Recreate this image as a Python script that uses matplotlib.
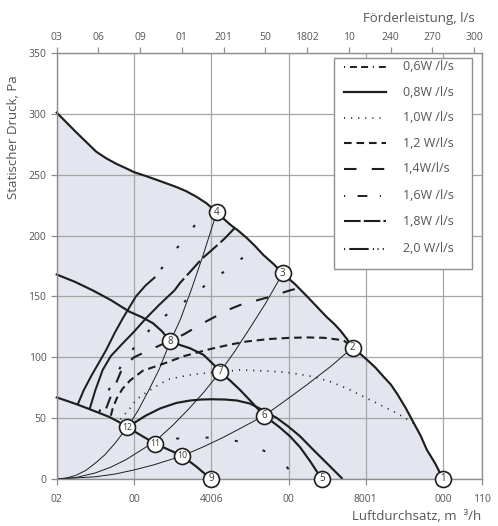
import matplotlib.pyplot as plt
from matplotlib.patches import Rectangle
from matplotlib.lines import Line2D

plt.rcParams['font.family'] = ['Open Sans', 'DejaVu Sans']
plt.rcParams['lines.scale_dashes'] = False

# --- data (x: m3/h, y: Pa) ---
max_x = [0, 25, 50, 76, 102, 128, 154, 178, 201, 230, 257, 283, 309, 335, 361, 388, 414,
         449, 470, 492, 513, 535, 560, 585, 617, 648, 675, 699, 718, 734, 750, 766,
         785, 803, 825, 846, 865, 881, 903, 924, 942, 958, 980, 1000]
max_y = [301, 293, 285, 277, 269, 263.5, 259, 255.5, 252, 249, 246, 243, 240, 236.5, 232, 226.5, 219,
         209, 204, 198, 191.5, 184, 177, 169, 160, 150, 141, 133, 127.5, 122, 115.5, 108,
         103, 98, 91.5, 84, 77.5, 70, 58.5, 46, 35.5, 24, 12.5, 0]

mid_x = [0, 47, 93, 140, 188, 220, 249, 272, 294, 320, 345, 380, 406, 423, 450, 475, 505, 537,
         575, 604, 630, 655, 686]
mid_y = [168, 162, 155, 147, 137.5, 133, 128, 121.5, 113, 110, 107.4, 102, 94, 88, 80.5, 73, 63, 52,
         43, 35, 26, 15, 0]

low_x = [0, 28, 55, 84, 112, 136, 160, 183, 220, 255, 290, 325, 362, 399]
low_y = [67, 64, 61, 57.5, 54, 51, 47, 42.5, 35.5, 29, 24, 19, 10, 0]

sys4_x = [0, 25, 50, 75, 100, 125, 150, 183, 210, 240, 265, 294, 320, 350, 380, 414]
sys4_y = [0, 0.8, 3, 7, 13, 20, 29, 42.5, 56, 74, 90, 113, 131, 157, 185, 219]
sys3_x = [0, 50, 100, 140, 180, 220, 255, 300, 340, 380, 423, 460, 500, 540, 585]
sys3_y = [0, 1.2, 5, 9.7, 16, 24, 31, 44, 57, 71, 88, 104.5, 124, 144, 169]
sys2_x = [0, 100, 150, 200, 250, 325, 380, 430, 480, 537, 590, 650, 710, 766]
sys2_y = [0, 1.8, 4, 7.4, 11.5, 19, 26.5, 34, 42.4, 52, 64, 78, 92.7, 108]

w06_x = [255, 295, 332, 370, 406, 445, 483, 525, 561, 595, 622]
w06_y = [31, 33, 33.5, 34, 34, 32.5, 30, 25, 19, 10, 0]
w08_x = [183, 230, 268, 310, 346, 375, 401, 435, 466, 500, 537, 570, 600, 630, 664, 699, 740]
w08_y = [42.5, 52, 58, 62.5, 64.5, 65.3, 65.5, 65.3, 64.5, 62, 56, 50, 43, 35, 24, 13, 0]
w10_x = [165, 192, 205, 227, 249, 270, 292, 320, 346, 385, 423, 475, 544, 604, 665, 708, 751,
         794, 838, 881, 924]
w10_y = [49, 59, 65, 70, 74.5, 78.6, 82, 84, 85.5, 87, 88, 89.6, 88.7, 87.3, 84, 80, 74.5,
         67.6, 60.8, 54, 45.8]
w12_x = [140, 145, 155, 170, 190, 223, 270, 330, 400, 450, 492, 550, 604, 650, 691, 742, 766]
w12_y = [52, 58, 66, 74, 81, 89, 94, 101, 107, 110.5, 113, 115, 116, 116.3, 116, 114, 108]
w14_x = [128, 140, 154, 171, 200, 240, 290, 330, 384, 444, 475, 544, 604, 628]
w14_y = [58, 68, 79, 92, 100, 106, 113, 119, 129, 139, 143, 149, 155, 157]
w16_x = [110, 130, 150, 175, 221, 263, 324, 384, 451, 520]
w16_y = [55, 70, 83, 98, 116, 130, 144, 159, 174.5, 191]
w18_x = [84.5, 100, 119, 140, 171, 200, 231, 265, 305, 319, 376, 419, 436, 460]
w18_y = [56.7, 73, 89.6, 101, 111.5, 121, 132, 143, 155, 161, 181, 193, 198, 206]
w20_x = [54, 70, 90, 110, 128, 150, 171, 205, 230, 255, 302, 349, 395]
w20_y = [61, 73, 85, 96, 106, 120, 132, 150, 159, 166, 186, 205, 224]
split18 = 8   # index where the 1.8 line turns from solid to dashed
split20 = 9   # index where the 2.0 line turns from solid to sparse

pt_id = ['1', '2', '3', '4', '5', '6', '7', '8', '9', '10', '11', '12']
pt_x = [1000, 766, 585, 414, 686, 537, 423, 294, 399, 325, 255, 183]
pt_y = [0, 108, 169, 219, 0, 52, 88, 113, 0, 19, 29, 42.5]

x_ticks = [0, 200, 400, 600, 800, 1000, 1100]
x_labels = ['02', '00', '4006', '00', '8001', '000', '110']
y_ticks = [0, 50, 100, 150, 200, 250, 300, 350]
top_ls = [0, 30, 60, 90, 120, 150, 180, 210, 240, 270, 300]
top_labels = ['03', '06', '09', '01', '201', '50', '1802', '10', '240', '270', '300']

leg_labels = ['0,6W /l/s', '0,8W /l/s', '1,0W /l/s', '1,2 W/l/s',
              '1,4W/l/s', '1,6W /l/s', '1,8W /l/s', '2,0 W/l/s']

TXT = '#555555'
GRID = '#a6a6a6'
INK = '#1e1e1e'
FILL = '#e3e6ef'

# legend handle styles
leg_styles = [
    dict(ls=(0, (0.8, 3.5, 5, 3, 5, 3.5)), lw=1.4),
    dict(ls='-', lw=1.6),
    dict(ls=(0, (0.8, 4.3)), lw=1.2),
    dict(ls=(0, (5.5, 3.5)), lw=1.5),
    dict(ls=(0, (9, 11)), lw=1.5),
    dict(ls=(0, (0.8, 9, 7, 9)), lw=1.4),
    dict(ls=(0, (12, 2.2)), lw=1.5),
    dict(ls=(0, (0.8, 3, 14, 3, 0.8, 2.5, 0.8, 3)), lw=1.5),
]

fig = plt.figure(figsize=(4.98, 5.26), dpi=100)
ax = fig.add_axes([0.1139, 0.0894, 0.8534, 0.8098])
ax.set_xlim(0, 1100)
ax.set_ylim(0, 350)
ax.set_axisbelow(True)

ax.fill_between(max_x, max_y, 0, color=FILL, lw=0, zorder=0.2)
ax.grid(True, color=GRID, lw=0.9)

# system curves
for sx, sy in [(sys4_x, sys4_y), (sys3_x, sys3_y), (sys2_x, sys2_y)]:
    ax.plot(sx, sy, color=INK, lw=0.7, zorder=1.5)

# specific fan power lines
kw = dict(color=INK, zorder=2, dash_capstyle='butt', solid_capstyle='butt')
ax.plot(w06_x, w06_y, ls=(6, (2.2, 19)), lw=1.4, **kw)
ax.plot(w08_x, w08_y, ls='-', lw=1.55, **kw)
ax.plot(w10_x, w10_y, ls=(0, (0.8, 4.3)), lw=1.2, **kw)
ax.plot(w12_x, w12_y, ls=(0, (5.5, 3.5)), lw=1.5, **kw)
ax.plot(w14_x, w14_y, ls=(0, (9, 11)), lw=1.5, **kw)
ax.plot(w16_x, w16_y, ls=(0, (2, 15)), lw=1.5, **kw)
ax.plot(w18_x[:split18 + 1], w18_y[:split18 + 1], ls='-', lw=1.45, **kw)
ax.plot(w18_x[split18:], w18_y[split18:], ls=(3, (14, 3)), lw=1.5, **kw)
ax.plot(w20_x[:split20 + 1], w20_y[:split20 + 1], ls='-', lw=1.45, **kw)
ax.plot(w20_x[split20:], w20_y[split20:], ls=(12, (2, 17)), lw=1.5, **kw)

# fan curves
for fx, fy in [(max_x, max_y), (mid_x, mid_y), (low_x, low_y)]:
    ax.plot(fx, fy, color=INK, lw=1.55, zorder=2.5, clip_on=False)

# numbered points
ax.plot(pt_x, pt_y, 'o', ms=11.5, mfc='white', mec=INK, mew=1.2, zorder=5, clip_on=False)
for t, x, y in zip(pt_id, pt_x, pt_y):
    ax.text(x, y, t, ha='center', va='center', fontsize=7 if len(t) == 1 else 6.3,
            color='#333333', zorder=6, clip_on=False)

# axes styling
for s in ax.spines.values():
    s.set_color('#8f8f8f')
    s.set_linewidth(1)
ax.set_xticks(x_ticks)
ax.set_xticklabels(x_labels)
ax.set_yticks(y_ticks)
ax.tick_params(axis='both', colors='#8f8f8f', labelcolor=TXT, labelsize=7.5,
               length=4, width=0.9)
ax.tick_params(axis='x', pad=7)

ax2 = ax.twiny()
ax2.set_xlim(0, 1100)
ax2.set_xticks([q * 3.6 for q in top_ls])
ax2.set_xticklabels(top_labels)
ax2.tick_params(axis='x', colors='#8f8f8f', labelcolor=TXT, labelsize=7.5,
                length=4, width=0.9, pad=3)
for s in ax2.spines.values():
    s.set_visible(False)

fig.text(0.954, 0.965, 'Förderleistung, l/s', ha='right', va='center', fontsize=9.5, color=TXT)
fig.text(0.967, 0.018, 'Luftdurchsatz, m  ³/h', ha='right', va='center', fontsize=9.5, color=TXT)
fig.text(0.028, 0.74, 'Statischer Druck, Pa', ha='center', va='center', rotation=90,
         fontsize=9.5, color=TXT)

# legend
ax.add_patch(Rectangle((0.6525, 0.4923), 0.324, 0.4953, transform=ax.transAxes,
                       facecolor='white', edgecolor='#8f8f8f', lw=1, zorder=7))
leg_y = [0.9683, 0.908, 0.8486, 0.7883, 0.7282, 0.6655, 0.6045, 0.5404]
for lab, st, yy in zip(leg_labels, leg_styles, leg_y):
    ax.add_line(Line2D([0.6767, 0.7755], [yy, yy], transform=ax.transAxes, color=INK,
                       zorder=8, dash_capstyle='butt', **st))
    ax.text(0.815, yy, lab, transform=ax.transAxes, ha='left', va='center',
            fontsize=9, color=TXT, zorder=8)

fig.savefig('out.png', dpi=100)
